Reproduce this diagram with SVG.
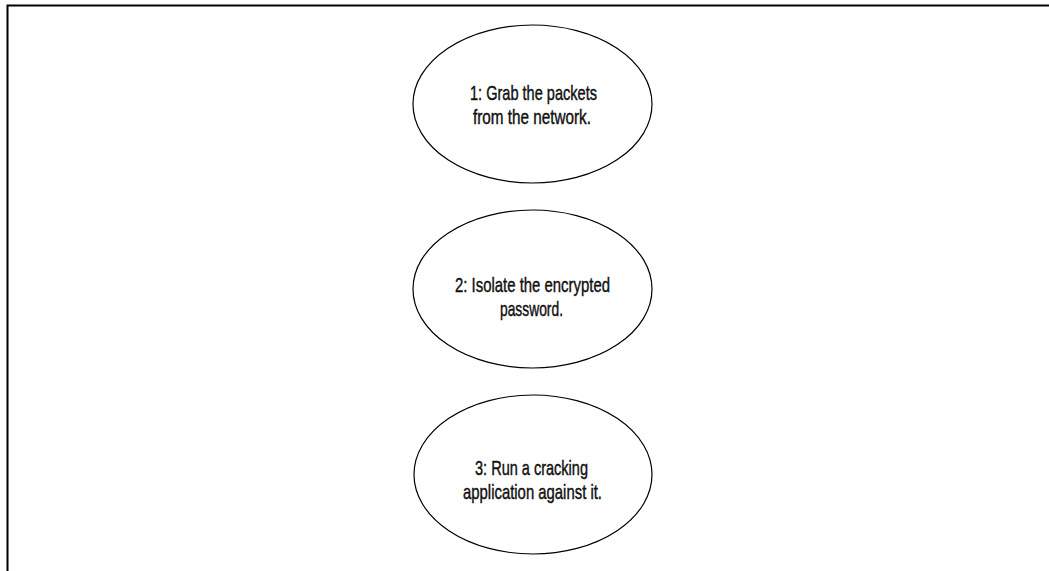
<svg xmlns="http://www.w3.org/2000/svg" width="1049" height="571" viewBox="0 0 1049 571">
<style>
.frame{fill:none;stroke:#000;stroke-width:2}
.node ellipse{fill:#fff;stroke:#000;stroke-width:1.2}
.node text{font-family:"Liberation Sans",Arial,sans-serif;font-size:21px;fill:#111;stroke:#111;stroke-width:0.45;text-anchor:middle}
</style>
<rect width="1049" height="571" fill="#fff"/>
<path class="frame" d="M7.5,572 V5.5 H1050"/>
<g id="connectors"/>
<g id="node1" class="node">
<ellipse cx="532.5" cy="104" rx="119.5" ry="79"/>
<text x="533.5" y="100" textLength="127" lengthAdjust="spacingAndGlyphs">1: Grab the packets</text>
<text x="532" y="124" textLength="118" lengthAdjust="spacingAndGlyphs">from the network.</text>
</g>
<g id="node2" class="node">
<ellipse cx="532.5" cy="289" rx="119.5" ry="79"/>
<text x="532.5" y="292" textLength="155" lengthAdjust="spacingAndGlyphs">2: Isolate the encrypted</text>
<text x="531.5" y="316" textLength="63" lengthAdjust="spacingAndGlyphs">password.</text>
</g>
<g id="node3" class="node">
<ellipse cx="533" cy="474.5" rx="119" ry="79.5"/>
<text x="531.5" y="475" textLength="113" lengthAdjust="spacingAndGlyphs">3: Run a cracking</text>
<text x="532.5" y="499" textLength="139" lengthAdjust="spacingAndGlyphs">application against it.</text>
</g>
</svg>
